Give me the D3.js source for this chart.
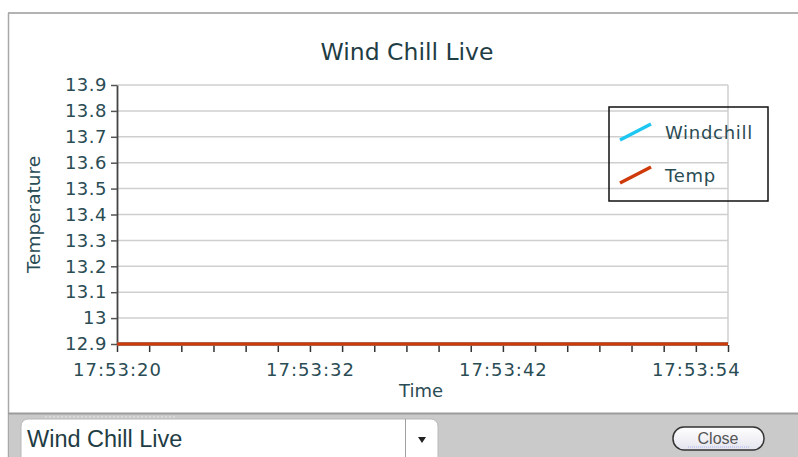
<!DOCTYPE html>
<html>
<head>
<meta charset="utf-8">
<script src="https://cdn.jsdelivr.net/npm/d3@7"></script>
<style>
  body { margin: 0; background: #fff; }
  svg { display: block; }
</style>
</head>
<body>
<svg id="idChart" width="798" height="457"></svg>
<script>
// samples shown on the time axis (only every 6th one gets a label)
const times = ['17:53:20', '17:53:22', '17:53:24', '17:53:26', '17:53:28', '17:53:30', '17:53:32',
  '17:53:33', '17:53:35', '17:53:37', '17:53:38', '17:53:40', '17:53:42',
  '17:53:44', '17:53:46', '17:53:48', '17:53:50', '17:53:52', '17:53:54', '17:53:56'];
const windchill = [12.9, 12.9, 12.9, 12.9, 12.9, 12.9, 12.9, 12.9, 12.9, 12.9,
  12.9, 12.9, 12.9, 12.9, 12.9, 12.9, 12.9, 12.9, 12.9, 12.9];
const temp = [12.9, 12.9, 12.9, 12.9, 12.9, 12.9, 12.9, 12.9, 12.9, 12.9,
  12.9, 12.9, 12.9, 12.9, 12.9, 12.9, 12.9, 12.9, 12.9, 12.9];
const yTicks = [12.9, 13, 13.1, 13.2, 13.3, 13.4, 13.5, 13.6, 13.7, 13.8, 13.9];
const seriesNames = ['Windchill', 'Temp'];

const textColor = '#2a4c54';
const colors = ['#1ec6f2', '#cf3a0a'];
const margin = { left: 117, right: 70, top: 85, bottom: 113 };
const W = 798, H = 457;

const svg = d3.select('#idChart');

/// frame
svg.append('line').attr('x1', 8).attr('x2', W).attr('y1', 13).attr('y2', 13)
  .attr('stroke', '#9a9a9a').attr('stroke-width', 1.5);
svg.append('line').attr('x1', 8.5).attr('x2', 8.5).attr('y1', 13).attr('y2', H)
  .attr('stroke', '#a8a8a8').attr('stroke-width', 1.5);

/// scales
const x = d3.scalePoint().domain(d3.range(times.length)).range([margin.left, W - margin.right]);
const y = d3.scaleLinear().domain([12.9, 13.9]).range([H - margin.bottom, margin.top]);

/// grid lines
svg.append('g')
  .selectAll('line')
  .data(yTicks.slice(1))
  .enter()
  .append('line')
  .attr('x1', margin.left).attr('x2', W - margin.right)
  .attr('y1', d => y(d)).attr('y2', d => y(d))
  .attr('stroke', '#cfcfcf').attr('stroke-width', 1.5);
svg.append('line')
  .attr('x1', W - margin.right).attr('x2', W - margin.right)
  .attr('y1', y(13.9)).attr('y2', y(12.9))
  .attr('stroke', '#cfcfcf').attr('stroke-width', 1.5);

/// Y axis
const yAxis = svg.append('g')
  .attr('transform', `translate(${margin.left},0)`)
  .call(d3.axisLeft(y).tickValues(yTicks).tickFormat(d => String(d)).tickSize(6).tickSizeOuter(0).tickPadding(4));
yAxis.select('.domain').attr('stroke', '#444').attr('stroke-width', 1.8);
yAxis.selectAll('.tick line').attr('stroke', '#555').attr('stroke-width', 1.5);
yAxis.selectAll('.tick text')
  .attr('fill', textColor)
  .style('font-family', 'DejaVu Sans')
  .style('font-size', '18px')
  .style('letter-spacing', '0.5px');

/// X axis (ticks on every sample, label on every 6th)
const xAxis = svg.append('g')
  .attr('transform', `translate(0,${y(12.9) + 1})`)
  .call(d3.axisBottom(x).tickFormat(i => i % 6 === 0 ? times[i] : '').tickSize(7).tickSizeOuter(0).tickPadding(11));
xAxis.select('.domain').attr('stroke', 'none');
xAxis.selectAll('.tick line').attr('stroke', '#333').attr('stroke-width', 1.5);
xAxis.selectAll('.tick text')
  .attr('fill', textColor)
  .style('font-family', 'DejaVu Sans')
  .style('font-size', '18px')
  .style('letter-spacing', '1px');

/// series lines
const line = d3.line().x((d, i) => x(i)).y(d => y(d));
[windchill, temp].forEach((s, k) => {
  svg.append('path')
    .datum(s)
    .attr('fill', 'none')
    .attr('stroke', colors[k])
    .attr('stroke-width', 3.5)
    .attr('d', line);
});

/// titles
svg.append('text')
  .attr('x', 407).attr('y', 60)
  .attr('text-anchor', 'middle')
  .attr('fill', '#1f3d44')
  .style('font-family', 'DejaVu Sans')
  .style('font-size', '23.5px')
  .text('Wind Chill Live');

svg.append('text')
  .attr('x', 421).attr('y', 397)
  .attr('text-anchor', 'middle')
  .attr('fill', textColor)
  .style('font-family', 'DejaVu Sans')
  .style('font-size', '18px')
  .text('Time');

svg.append('text')
  .attr('transform', `translate(40,${(y(12.9) + y(13.9)) / 2}) rotate(-90)`)
  .attr('text-anchor', 'middle')
  .attr('fill', textColor)
  .style('font-family', 'DejaVu Sans')
  .style('font-size', '18.5px')
  .text('Temperature');

/// legend (no fill, grid shows through)
const legend = svg.append('g').attr('transform', 'translate(609,107)');
legend.append('rect')
  .attr('width', 159).attr('height', 94)
  .attr('fill', 'none').attr('stroke', '#111').attr('stroke-width', 1.5);
const item = legend.selectAll('.item')
  .data(seriesNames)
  .enter()
  .append('g')
  .attr('transform', (d, i) => `translate(0,${i * 43})`);
item.append('line')
  .attr('x1', 11).attr('y1', 33).attr('x2', 42).attr('y2', 17)
  .attr('stroke', (d, i) => colors[i]).attr('stroke-width', 3.5);
item.append('text')
  .attr('x', 56).attr('y', 32)
  .attr('fill', textColor)
  .style('font-family', 'DejaVu Sans')
  .style('font-size', '18px')
  .style('letter-spacing', '0.7px')
  .text(d => d);

/// bottom toolbar
const bar = svg.append('g');
bar.append('rect').attr('x', 9).attr('y', 413).attr('width', W - 9).attr('height', H - 413).attr('fill', '#cacaca');
bar.append('line').attr('x1', 8).attr('x2', W).attr('y1', 413.5).attr('y2', 413.5)
  .attr('stroke', '#9c9c9c').attr('stroke-width', 2);
bar.append('line').attr('x1', 45).attr('x2', 175).attr('y1', 417).attr('y2', 417)
  .attr('stroke', '#e6e6e6').attr('stroke-width', 1).attr('stroke-dasharray', '2,2');

// combo box
bar.append('rect').attr('x', 21).attr('y', 419).attr('width', 417).attr('height', 60).attr('rx', 7)
  .attr('fill', '#fff').attr('stroke', '#b8b8b8');
bar.append('line').attr('x1', 405.5).attr('x2', 405.5).attr('y1', 419).attr('y2', H)
  .attr('stroke', '#a0a0a0');
bar.append('path').attr('d', 'M418,437 L426,437 L422,443 Z').attr('fill', '#222');
bar.append('text')
  .attr('x', 27).attr('y', 447)
  .attr('fill', '#1f3d44')
  .style('font-family', 'Liberation Sans')
  .style('font-size', '23.5px')
  .text('Wind Chill Live');

// close button
const grad = svg.append('defs').append('linearGradient').attr('id', 'btnGrad').attr('x1', 0).attr('x2', 0).attr('y1', 0).attr('y2', 1);
grad.append('stop').attr('offset', '0%').attr('stop-color', '#ffffff');
grad.append('stop').attr('offset', '100%').attr('stop-color', '#e4e4ee');
bar.append('rect').attr('x', 673).attr('y', 427).attr('width', 91).attr('height', 23).attr('rx', 11)
  .attr('fill', 'url(#btnGrad)').attr('stroke', '#333').attr('stroke-width', 1.5);
bar.append('line').attr('x1', 688).attr('x2', 750).attr('y1', 447).attr('y2', 447)
  .attr('stroke', '#aab4f0').attr('stroke-width', 1.2).attr('stroke-dasharray', '1,1');
bar.append('text')
  .attr('x', 718).attr('y', 444)
  .attr('text-anchor', 'middle')
  .attr('fill', '#555')
  .style('font-family', 'Liberation Sans')
  .style('font-size', '16px')
  .text('Close');
</script>
</body>
</html>
